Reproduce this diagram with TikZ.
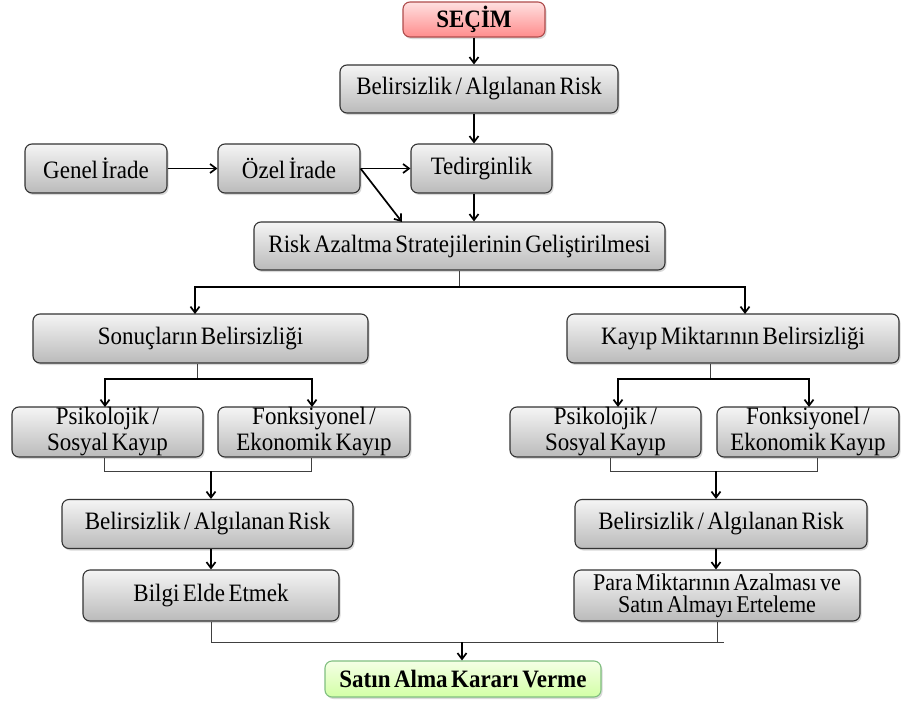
\documentclass[tikz,border=0pt]{standalone}
\usepackage{fontspec}
\setmainfont[FakeStretch=0.92,WordSpace=0.6]{Liberation Serif}
\usetikzlibrary{arrows.meta,shadows}
\begin{document}
\begin{tikzpicture}[x=1pt,y=-1pt,
 box/.style={draw=black!80, line width=1.1pt, rounded corners=7pt,
   top color=white!96!black, bottom color=black!27,
   drop shadow={shadow xshift=1.5pt,shadow yshift=-2pt,opacity=0.3},
   align=center, inner sep=0pt, font=\fontsize{25}{26}\selectfont},
 redbox/.style={box, draw=red!55!black!70, top color=red!12, bottom color=red!45,
   font=\fontsize{25}{26}\selectfont\bfseries},
 greenbox/.style={box, draw=green!50!black!50, top color=green!40!yellow!10, bottom color=green!50!yellow!35,
   font=\fontsize{25}{26}\selectfont\bfseries},
 arr/.style={line width=1.7pt, -{Straight Barb[length=6pt,width=9pt,line width=1.7pt]}},
 ln/.style={line width=0.8pt, draw=black!75}]
\useasboundingbox (0,0) rectangle (902,704);

\node[redbox, minimum width=142pt, minimum height=35pt] (secim) at (474,19.5) {SEÇİM};
\node[box, minimum width=278pt, minimum height=48pt] (b1) at (479,89) {Belirsizlik / Algılanan Risk};
\node[box, minimum width=142pt, minimum height=49pt] (genel) at (96,168.5) {Genel İrade};
\node[box, minimum width=142pt, minimum height=49pt] (ozel) at (289,168.5) {Özel İrade};
\node[box, minimum width=141pt, minimum height=49pt] (ted) at (481.5,168.5) {Tedirginlik};
\node[box, minimum width=411pt, minimum height=48pt] (risk) at (459.5,246) {Risk Azaltma Stratejilerinin Geliştirilmesi};
\node[box, minimum width=335pt, minimum height=49pt] (son) at (200.5,338.5) {Sonuçların Belirsizliği};
\node[box, minimum width=332pt, minimum height=49pt] (kay) at (733,338.5) {Kayıp Miktarının Belirsizliği};
\node[box, minimum width=191pt, minimum height=50pt] (psL) at (107.5,432) {Psikolojik /\\Sosyal Kayıp};
\node[box, minimum width=192pt, minimum height=50pt] (fkL) at (314,432) {Fonksiyonel /\\Ekonomik Kayıp};
\node[box, minimum width=191pt, minimum height=50pt] (psR) at (605.5,432) {Psikolojik /\\Sosyal Kayıp};
\node[box, minimum width=182pt, minimum height=50pt] (fkR) at (808,432) {Fonksiyonel /\\Ekonomik Kayıp};
\node[box, minimum width=291pt, minimum height=49pt] (bL) at (207.5,524) {Belirsizlik / Algılanan Risk};
\node[box, minimum width=256pt, minimum height=51pt] (bilgi) at (211,595.5) {Bilgi Elde Etmek};
\node[box, minimum width=292pt, minimum height=49pt] (bR) at (721,524) {Belirsizlik / Algılanan Risk};
\node[box, minimum width=286pt, minimum height=51pt, font=\fontsize{24}{22}\selectfont] (para) at (717,595.5) {Para Miktarının Azalması ve\\Satın Almayı Erteleme};
\node[greenbox, minimum width=276pt, minimum height=36pt] (satin) at (463,679) {Satın Alma Kararı Verme};

% top chain
\draw[arr] (secim.south) -- (secim.south |- b1.north);
\draw[arr] (b1.south -| secim.south) -- (ted.north -| secim.south);
\draw[arr] (genel.east) -- (ozel.west);
\draw[arr] (ozel.east) -- (ted.west);
\coordinate (rk) at (402,222);
\draw[arr] (ozel.east) -- (rk);
\draw[arr] (ted.south -| secim.south) -- (risk.north -| secim.south);

% split from risk
\coordinate (rj) at (459.5,287);
\coordinate (rs) at (195,314);
\coordinate (rk2) at (745,314);
\draw[ln] (risk.south) -- (rj);
\draw[arr] (rj) -| (rs);
\draw[arr] (rj) -| (rk2);

% split from son
\coordinate (sj) at (197,379);
\coordinate (sa) at (105,407);
\coordinate (sb) at (312,407);
\draw[ln] (son.south -| sj) -- (sj);
\draw[arr] (sj) -| (sa);
\draw[arr] (sj) -| (sb);

% split from kay
\coordinate (kj) at (710,379);
\coordinate (ka) at (618,407);
\coordinate (kb) at (809,407);
\draw[ln] (kay.south -| kj) -- (kj);
\draw[arr] (kj) -| (ka);
\draw[arr] (kj) -| (kb);

% merge left
\coordinate (ml1) at (104,471);
\coordinate (ml2) at (311,471);
\coordinate (mlj) at (211,471);
\draw[ln] (psL.south -| ml1) -- (ml1) -- (ml2) -- (fkL.south -| ml2);
\draw[arr] (mlj) -- (bL.north -| mlj);
\draw[arr] (bL.south -| mlj) -- (bilgi.north -| mlj);

% merge right
\coordinate (mr1) at (610,471);
\coordinate (mr2) at (817,471);
\coordinate (mrj) at (716,471);
\draw[ln] (psR.south -| mr1) -- (mr1) -- (mr2) -- (fkR.south -| mr2);
\draw[arr] (mrj) -- (bR.north -| mrj);
\draw[arr] (bR.south -| mrj) -- (para.north -| mrj);

% merge bottom
\coordinate (mb1) at (211,642);
\coordinate (mb2) at (717,642);
\coordinate (mbe) at (724,642);
\coordinate (mbj) at (462,642);
\draw[ln] (bilgi.south -| mb1) -- (mb1) -- (mbe);
\draw[ln] (para.south -| mb2) -- (mb2);
\draw[arr] (mbj) -- (satin.north -| mbj);
\end{tikzpicture}
\end{document}
